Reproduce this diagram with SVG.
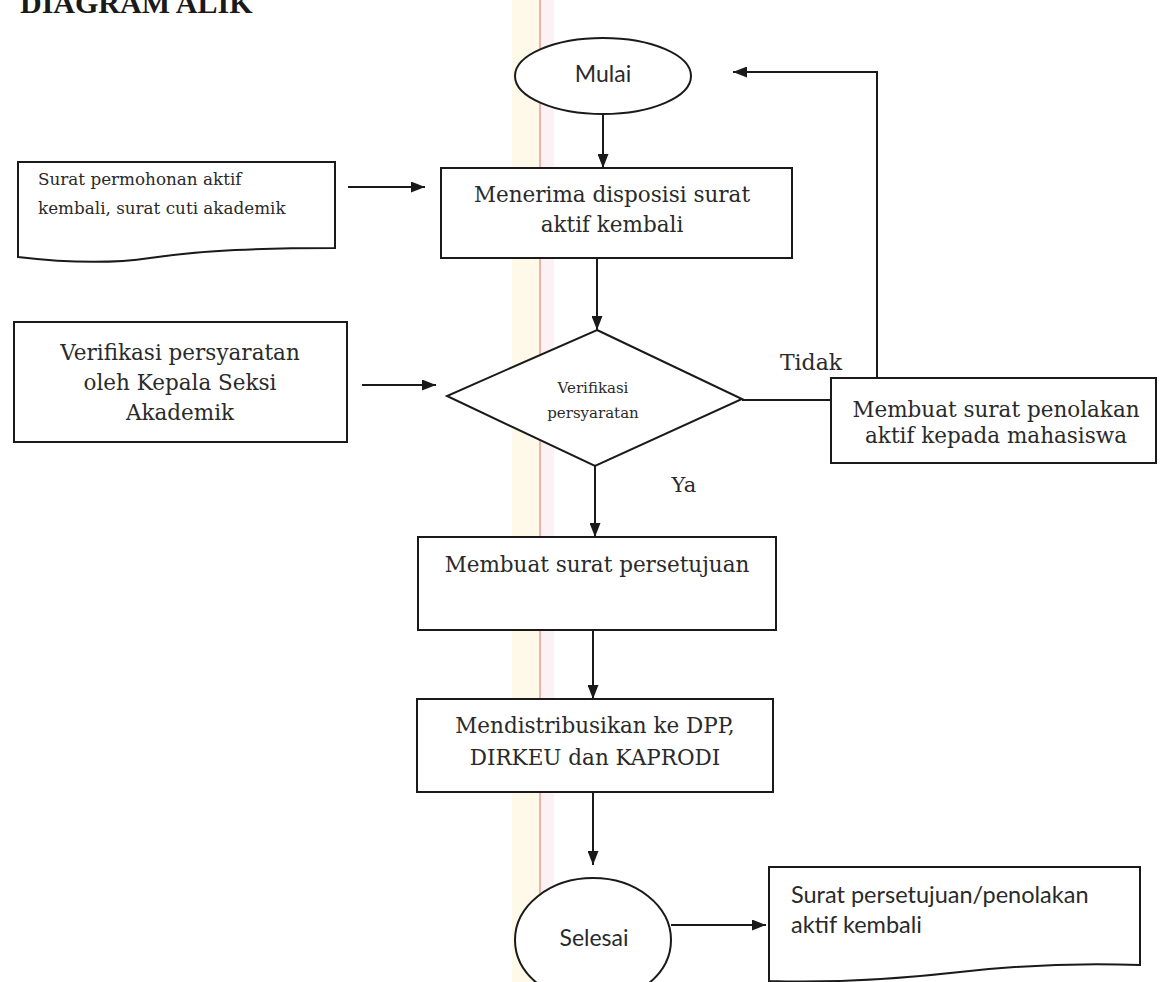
<svg xmlns="http://www.w3.org/2000/svg" width="1161" height="982" viewBox="0 0 1161 982">
<defs>
<marker id="arr" viewBox="0 0 14 11" refX="14" refY="5.5" markerWidth="14" markerHeight="11" markerUnits="userSpaceOnUse" orient="auto">
<path d="M0,0 L14,5.5 L0,11 Z" fill="#1a1a1a"/>
</marker>
<style>
.shape{fill:#fff;stroke:#1a1a1a;stroke-width:2}
.conn{fill:none;stroke:#1a1a1a;stroke-width:2}
.serif{font-family:"DejaVu Serif","Liberation Serif",serif;fill:#2a2a2a;text-anchor:middle}
.sans{font-family:Lato,"Liberation Sans",sans-serif;fill:#2a2a2a}
.mid{text-anchor:middle}
.box{font-size:21.5px}
</style>
</defs>
<rect width="1161" height="982" fill="#fff"/>
<rect x="512" y="0" width="28" height="982" fill="#fdf7de" opacity="0.7"/>
<rect x="540" y="0" width="14" height="982" fill="#fbeef3" opacity="0.8"/>
<line x1="540" y1="0" x2="540" y2="982" stroke="#e89c8c" stroke-width="1.5"/>
<text x="20" y="13" font-family="Liberation Serif, serif" font-weight="bold" font-size="30" fill="#1a1a1a">DIAGRAM ALIK</text>
<g id="connectors">
<line class="conn" x1="603" y1="114" x2="603" y2="168" marker-end="url(#arr)"/>
<line class="conn" x1="348" y1="187" x2="425" y2="187" marker-end="url(#arr)"/>
<line class="conn" x1="597" y1="258" x2="597" y2="330" marker-end="url(#arr)"/>
<line class="conn" x1="362" y1="385" x2="436" y2="385" marker-end="url(#arr)"/>
<line class="conn" x1="595" y1="466" x2="595" y2="537" marker-end="url(#arr)"/>
<line class="conn" x1="593" y1="630" x2="593" y2="699" marker-end="url(#arr)"/>
<line class="conn" x1="593" y1="792" x2="593" y2="865" marker-end="url(#arr)"/>
<line class="conn" x1="671" y1="925" x2="766" y2="925" marker-end="url(#arr)"/>
<line class="conn" x1="742" y1="400" x2="831" y2="400"/>
<polyline class="conn" points="877,378 877,72 733,72" marker-end="url(#arr)"/>
<text class="serif" x="811" y="370" font-size="22">Tidak</text>
<text class="serif" x="684" y="492" font-size="21">Ya</text>
</g>
<g id="mulai">
<ellipse class="shape" cx="603" cy="76" rx="88" ry="38"/>
<text class="sans mid" x="603" y="82" font-size="23">Mulai</text>
</g>
<g id="doc-input">
<path class="shape" d="M18,162 H335 V248 C260,248 205,250 150,258 C110,264 60,262 18,257 Z"/>
<text class="serif" x="38" y="185" font-size="16.8" style="text-anchor:start">Surat permohonan aktif</text>
<text class="serif" x="38" y="214" font-size="16.8" style="text-anchor:start">kembali, surat cuti akademik</text>
</g>
<g id="menerima">
<rect class="shape" x="441" y="168" width="351" height="90"/>
<text class="serif box" x="612" y="202">Menerima disposisi surat</text>
<text class="serif box" x="612" y="232">aktif kembali</text>
</g>
<g id="verifikasi-kasi">
<rect class="shape" x="14" y="322" width="333" height="120"/>
<text class="serif box" x="180" y="360">Verifikasi persyaratan</text>
<text class="serif box" x="180" y="390">oleh Kepala Seksi</text>
<text class="serif box" x="180" y="420">Akademik</text>
</g>
<g id="decision">
<polygon class="shape" points="597,330 742,399 595,466 447,396"/>
<text class="serif" x="593" y="393" font-size="15">Verifikasi</text>
<text class="serif" x="593" y="418" font-size="15">persyaratan</text>
</g>
<g id="penolakan">
<rect class="shape" x="831" y="378" width="325" height="85"/>
<text class="serif box" x="996" y="417">Membuat surat penolakan</text>
<text class="serif box" x="996" y="443">aktif kepada mahasiswa</text>
</g>
<g id="persetujuan">
<rect class="shape" x="418" y="537" width="358" height="93"/>
<text class="serif box" x="597" y="572">Membuat surat persetujuan</text>
</g>
<g id="distribusi">
<rect class="shape" x="417" y="699" width="356" height="93"/>
<text class="serif box" x="595" y="733">Mendistribusikan ke DPP,</text>
<text class="serif box" x="595" y="765">DIRKEU dan KAPRODI</text>
</g>
<g id="selesai">
<ellipse class="shape" cx="593" cy="940" rx="78" ry="62"/>
<text class="sans mid" x="594" y="946" font-size="23">Selesai</text>
</g>
<g id="doc-output">
<path class="shape" d="M769,867 H1140 V965 C1080,963 1020,965 960,972 C890,980 830,983 769,981 Z"/>
<text class="sans" x="791" y="903" font-size="23.5">Surat persetujuan/penolakan</text>
<text class="sans" x="791" y="933" font-size="23.5">aktif kembali</text>
</g>
</svg>
